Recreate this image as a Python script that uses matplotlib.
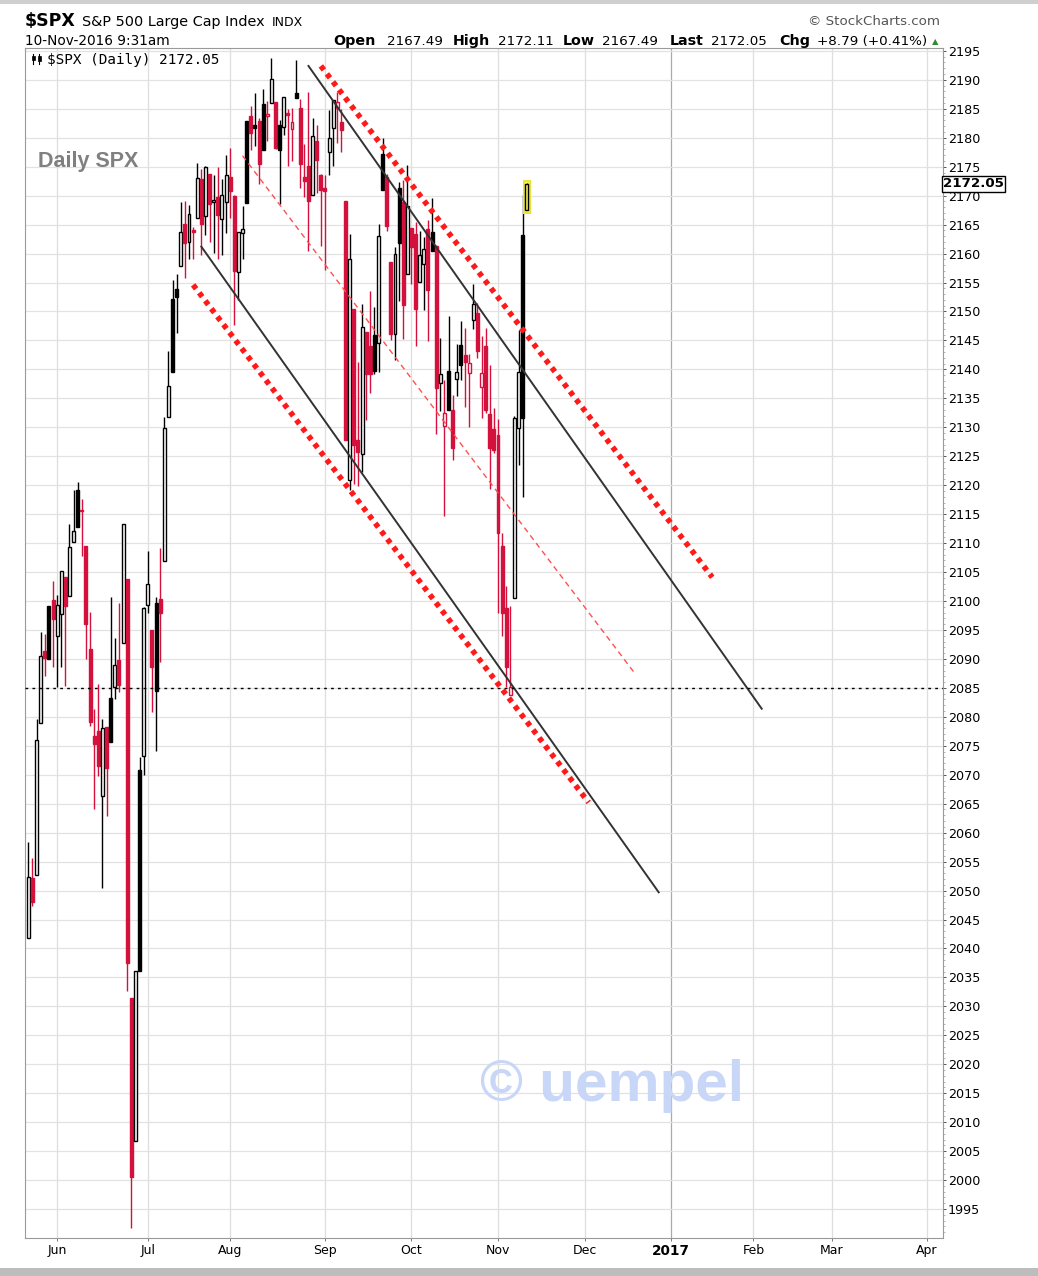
import matplotlib
matplotlib.use('Agg')
import matplotlib.pyplot as plt
import matplotlib.transforms as mtransforms
from matplotlib.patches import Rectangle
from matplotlib.lines import Line2D
import numpy as np
import pandas as pd

plt.rcParams['font.family'] = ['DejaVu Sans']

# NYSE holidays inside the chart window
holidays = ['2016-05-30', '2016-07-04', '2016-09-05', '2016-11-24', '2016-12-26',
            '2017-01-02', '2017-01-16', '2017-02-20']

# daily SPX, 20-May-2016 .. 10-Nov-2016
opens = [2041.88, 2052.23, 2052.65, 2078.93, 2091.44, 2090.06, 2100.13,
         2093.94, 2097.71, 2104.07, 2100.83, 2110.18, 2112.71, 2115.65, 2109.57, 2091.75, 2076.65, 2077.60,
         2066.36, 2078.20, 2075.58, 2085.19, 2089.75, 2092.80, 2103.81, 2031.45, 2006.67, 2036.09, 2073.17,
         2099.34, 2095.05, 2084.43, 2100.42, 2106.97, 2131.72, 2139.50, 2153.81, 2157.88, 2165.13, 2162.04,
         2163.79, 2166.10, 2172.91, 2166.47, 2173.71, 2168.97, 2169.81, 2166.05, 2168.83,
         2173.15, 2169.94, 2156.81, 2163.51, 2168.79, 2183.76, 2182.24, 2182.81, 2177.97, 2183.74, 2186.08,
         2186.24, 2177.84, 2181.90, 2184.24, 2181.58, 2187.81, 2185.09, 2173.29, 2175.10, 2170.19, 2179.45,
         2173.56,
         2171.33, 2177.49, 2181.61, 2185.17, 2182.76, 2169.08, 2120.86, 2150.47, 2127.86, 2125.36, 2146.48,
         2143.99, 2145.94, 2144.58, 2170.94, 2173.29, 2158.54, 2146.04, 2161.85, 2168.90, 2156.51,
         2164.33, 2163.37, 2155.15, 2158.22, 2164.19, 2160.39, 2161.35, 2137.67, 2130.26, 2139.68, 2132.95,
         2138.31, 2140.81, 2142.51, 2139.43, 2148.50, 2149.72, 2136.97, 2144.06, 2132.23, 2129.78,
         2128.68, 2109.43, 2098.80, 2083.79, 2100.59, 2129.92, 2131.56, 2167.49]
highs = [2058.35, 2055.58, 2079.67, 2094.73, 2094.30, 2099.06, 2103.48,
         2100.97, 2105.26, 2104.07, 2113.36, 2119.22, 2120.55, 2117.64, 2109.57, 2098.12, 2081.30, 2085.65,
         2079.62, 2078.20, 2100.66, 2093.66, 2099.71, 2113.32, 2103.81, 2031.45, 2036.09, 2073.13, 2098.94,
         2108.71, 2095.05, 2100.72, 2109.08, 2131.71, 2143.16, 2155.40, 2156.45, 2168.99, 2169.05, 2168.35,
         2164.63, 2175.63, 2174.56, 2175.11, 2173.71, 2173.54, 2174.98, 2172.85, 2177.09,
         2178.29, 2170.20, 2163.79, 2168.19, 2182.87, 2185.44, 2187.66, 2183.41, 2188.45, 2186.28, 2193.81,
         2186.24, 2183.08, 2187.03, 2185.00, 2185.15, 2193.42, 2186.66, 2179.00, 2187.94, 2183.48, 2182.27,
         2173.79,
         2173.56, 2184.87, 2186.57, 2187.87, 2184.94, 2169.08, 2163.30, 2150.47, 2141.33, 2151.31, 2146.48,
         2153.61, 2150.80, 2165.11, 2179.99, 2173.75, 2158.54, 2161.13, 2172.40, 2172.67, 2175.30,
         2164.41, 2165.46, 2163.95, 2162.93, 2165.86, 2169.60, 2161.56, 2145.36, 2138.19, 2149.19, 2135.61,
         2144.38, 2148.44, 2147.18, 2142.63, 2154.79, 2151.44, 2145.73, 2147.13, 2140.72, 2133.25,
         2131.45, 2111.76, 2102.56, 2099.07, 2132.00, 2146.87, 2170.10, 2172.11]
lows = [2041.88, 2047.26, 2052.65, 2078.93, 2087.08, 2090.06, 2088.66,
        2085.10, 2088.59, 2085.36, 2100.83, 2110.18, 2112.71, 2107.73, 2089.96, 2078.46, 2064.10, 2069.80,
        2050.37, 2062.84, 2075.58, 2083.02, 2084.36, 2092.80, 2032.57, 1991.68, 2006.67, 2036.09, 2070.00,
        2097.90, 2080.86, 2074.02, 2089.39, 2106.97, 2131.72, 2139.50, 2146.21, 2157.88, 2155.79, 2159.07,
        2159.01, 2166.10, 2159.75, 2163.24, 2161.95, 2160.18, 2159.07, 2159.74, 2163.49,
        2166.21, 2147.58, 2152.02, 2159.07, 2168.79, 2177.85, 2178.61, 2172.00, 2177.97, 2179.42, 2186.08,
        2178.14, 2168.50, 2180.46, 2175.13, 2175.96, 2186.80, 2171.25, 2169.74, 2160.39, 2170.19, 2170.41,
        2161.35,
        2157.09, 2173.59, 2175.10, 2179.07, 2177.49, 2127.81, 2119.12, 2120.27, 2119.90, 2122.36, 2131.20,
        2135.91, 2139.17, 2139.57, 2170.94, 2163.97, 2145.04, 2141.55, 2151.79, 2145.20, 2156.51,
        2154.77, 2144.01, 2155.15, 2150.28, 2144.85, 2160.39, 2128.84, 2132.77, 2114.72, 2132.98, 2124.43,
        2135.49, 2138.15, 2133.44, 2130.09, 2146.91, 2141.93, 2131.59, 2132.52, 2119.36, 2125.53,
        2097.85, 2094.00, 2085.23, 2083.79, 2100.59, 2123.56, 2118.00, 2167.49]
closes = [2052.32, 2048.04, 2076.06, 2090.54, 2090.10, 2099.06, 2096.95,
          2099.33, 2105.26, 2099.13, 2109.41, 2112.13, 2119.12, 2115.48, 2096.07, 2079.06, 2075.32, 2071.50,
          2077.99, 2071.22, 2083.25, 2088.90, 2085.45, 2113.32, 2037.41, 2000.54, 2036.09, 2070.77, 2098.86,
          2102.95, 2088.55, 2099.73, 2097.90, 2129.90, 2137.16, 2152.14, 2152.43, 2163.75, 2161.74, 2166.89,
          2163.78, 2173.02, 2165.17, 2175.03, 2168.48, 2169.18, 2166.58, 2170.06, 2173.60,
          2170.84, 2157.03, 2163.79, 2164.25, 2182.87, 2180.89, 2181.74, 2175.49, 2185.79, 2184.05, 2190.15,
          2178.15, 2182.22, 2187.02, 2183.87, 2182.64, 2186.90, 2175.44, 2172.47, 2169.04, 2180.38, 2176.12,
          2170.95,
          2170.86, 2179.98, 2186.48, 2186.16, 2181.30, 2127.81, 2159.04, 2127.02, 2125.77, 2147.26, 2139.16,
          2139.12, 2139.76, 2163.12, 2177.18, 2164.69, 2146.10, 2159.93, 2171.37, 2151.13, 2168.27,
          2161.20, 2150.49, 2159.73, 2160.77, 2153.74, 2163.66, 2136.73, 2139.18, 2132.55, 2132.98, 2126.50,
          2139.60, 2144.29, 2141.34, 2141.16, 2151.33, 2143.16, 2139.43, 2133.04, 2126.41, 2126.15,
          2111.72, 2097.94, 2088.66, 2085.18, 2131.52, 2139.56, 2163.26, 2172.05]
prev_close_first = 2040.04

# up days that the chart draws as solid black bodies
solid_up = ['2016-05-27', '2016-06-08', '2016-06-20', '2016-06-29', '2016-07-06', '2016-07-12',
            '2016-08-05', '2016-08-11', '2016-08-17', '2016-09-22', '2016-09-28', '2016-10-10',
            '2016-10-19', '2016-11-09']

# trend channel: (date, price) end points
black_lines = [(('2016-08-26', 2192.4), ('2017-02-03', 2081.4)),
               (('2016-07-21', 2161.2), ('2016-12-28', 2049.7))]
red_dotted = [(('2016-08-31', 2192.4), ('2017-01-18', 2104.1)),
              (('2016-07-19', 2154.6), ('2016-12-02', 2065.2))]
red_mid = (('2016-08-04', 2176.9), ('2016-12-19', 2087.7))
support = 2085

month_labels = ['Jun', 'Jul', 'Aug', 'Sep', 'Oct', 'Nov', 'Dec', '2017', 'Feb', 'Mar', 'Apr']

days = pd.bdate_range('2016-05-20', '2017-04-28')
days = days[~days.isin(pd.to_datetime(holidays))]
day_pos = {d: i for i, d in enumerate(days)}
n = len(closes)
dates = days[:n]

def xp(d):
    return day_pos[pd.Timestamp(d)]

fig = plt.figure(figsize=(10.38, 12.76), dpi=100)
W, H = 1038, 1276
ax = fig.add_axes([25 / W, 1 - 1238 / H, 918 / W, 1190 / H])

RED = '#d4103c'
width = 0.72
prev = prev_close_first
solid_set = set(pd.to_datetime(solid_up))
for i in range(n):
    o, h, l, c = opens[i], highs[i], lows[i], closes[i]
    col = RED if c < prev else 'black'
    filled = c < o or dates[i] in solid_set
    top, bot = max(o, c), min(o, c)
    if i == n - 1:
        ax.add_patch(Rectangle((i - width / 2 - 0.35, bot - 0.5), width + 0.7, top - bot + 1.0,
                               facecolor='#fbf66a', edgecolor='#e8e23a', lw=1.5, zorder=4))
        ax.vlines(i, l, bot, color=col, lw=1.0, zorder=5)
        ax.vlines(i, top, h, color=col, lw=1.0, zorder=5)
        ax.add_patch(Rectangle((i - width / 2, bot), width, top - bot,
                               facecolor='#fbf66a', edgecolor=col, lw=1.0, zorder=5))
    else:
        ax.vlines(i, l, bot, color=col, lw=1.0, zorder=3)
        ax.vlines(i, top, h, color=col, lw=1.0, zorder=3)
        ax.add_patch(Rectangle((i - width / 2, bot), width, max(top - bot, 0.25),
                               facecolor=col if filled else 'white', edgecolor=col,
                               lw=1.0, zorder=3))
    prev = c

for (d0, p0), (d1, p1) in black_lines:
    ax.plot([xp(d0), xp(d1)], [p0, p1], color='#333333', lw=1.4, zorder=6)
for (d0, p0), (d1, p1) in red_dotted:
    ax.plot([xp(d0), xp(d1)], [p0, p1], color='#ff1a1a', lw=4.0,
            linestyle=(0, (0.9, 0.9)), zorder=6)
(d0, p0), (d1, p1) = red_mid
ax.plot([xp(d0), xp(d1)], [p0, p1], color='#ff5050', lw=1.0, linestyle=(0, (4, 3)), zorder=6)
ax.axhline(support, color='black', lw=1.0, linestyle=(0, (2, 3)), zorder=6)

# axes
ax.set_xlim(-0.8, 222)
ax.set_ylim(1990, 2195.5)
yt = np.arange(1995, 2196, 5)
ax.set_yticks(yt)
ax.set_yticks(np.arange(1991, 2196, 1), minor=True)
ax.yaxis.tick_right()
ax.tick_params(axis='y', which='major', length=2.5, width=0.7, colors='#555555',
               labelcolor='black', labelsize=9.2, pad=1)
ax.tick_params(axis='y', which='minor', length=1.2, width=0.5, colors='#999999')
ax.grid(axis='y', which='major', color='#e2e2e2', lw=0.9, zorder=0)

mpos = []
for k, lab in enumerate(month_labels):
    y, m = (2016, 6 + k) if 6 + k <= 12 else (2017, 6 + k - 12)
    first = days[(days.year == y) & (days.month == m)][0]
    mpos.append(day_pos[first])
ax.set_xticks(mpos)
ax.set_xticklabels(month_labels)
ax.tick_params(axis='x', length=2.5, width=0.7, colors='#777777', labelcolor='black',
               labelsize=9, pad=2)
for t in ax.get_xticklabels():
    if t.get_text() == '2017':
        t.set_fontweight('bold')
        t.set_fontsize(9.8)
for p, lab in zip(mpos, month_labels):
    ax.axvline(p, color='#aaaaaa' if lab == '2017' else '#dedede', lw=0.9, zorder=0)
for s in ax.spines.values():
    s.set_color('#9a9a9a')
    s.set_linewidth(0.8)

# texts inside the plot
ax.text(0.024, 0.9958, '$SPX (Daily) 2172.05', transform=ax.transAxes, family='DejaVu Sans Mono',
        fontsize=10.3, va='top', ha='left', zorder=7)
# small candle icon before the legend text
for x0, y0, y1, y2, y3 in [(33, 54, 56, 60, 64), (39, 54, 56, 61, 64)]:
    fig.add_artist(Line2D([x0 / W, x0 / W], [1 - y0 / H, 1 - y3 / H], color='black', lw=0.8))
    fig.add_artist(Rectangle(((x0 - 1.5) / W, 1 - y2 / H), 3 / W, (y2 - y1) / H,
                             facecolor='black', edgecolor='black', lw=0.5))
fig.text(38 / W, 1 - 167 / H, 'Daily SPX', family='Liberation Sans', fontsize=15.5,
         fontweight='bold', color='#808080')
fig.text(612 / W, 1 - 1086 / H, '\u00a9 uempel', family='Liberation Sans', fontsize=42,
         fontweight='bold', color='#c8d6f7', ha='center', va='center')

trans = mtransforms.blended_transform_factory(ax.transAxes, ax.transData)
ax.text(1.0, 2172.05, '2172.05', transform=trans, fontsize=9.6, fontweight='bold',
        va='center', ha='left', zorder=10, clip_on=False,
        bbox=dict(boxstyle='square,pad=0.1', fc='white', ec='black', lw=1))

# header
def ft(x, y, s, **kw):
    fig.text(x / W, 1 - y / H, s, va='baseline', **kw)

ft(25, 26, '$SPX', fontsize=12.5, fontweight='bold')
ft(82, 26, 'S&P 500 Large Cap Index', fontsize=10.4)
ft(272, 26, 'INDX', fontsize=9)
ft(940, 25, '\u00a9 StockCharts.com', fontsize=9.6, color='#555555', ha='right')
ft(25, 45, '10-Nov-2016 9:31am', fontsize=9.8)
for x, s, b in [(333, 'Open', True), (387, '2167.49', False), (453, 'High', True),
                (498, '2172.11', False), (563, 'Low', True), (602, '2167.49', False),
                (670, 'Last', True), (711, '2172.05', False), (779, 'Chg', True),
                (817, '+8.79 (+0.41%)', False)]:
    ft(x, 45, s, fontsize=10.3 if b else 9.7, fontweight='bold' if b else 'normal')
ft(935, 44, '\u25b2', fontsize=6, color='#2e8b2e', ha='center')

# frame bands
fig.patches.append(Rectangle((0, 1 - 4 / H), 1, 4 / H, transform=fig.transFigure,
                             facecolor='#cfcfcf', edgecolor='none'))
fig.patches.append(Rectangle((0, 0), 1, 8 / H, transform=fig.transFigure,
                             facecolor='#bdbdbd', edgecolor='none'))

fig.savefig('out.png', dpi=100)
